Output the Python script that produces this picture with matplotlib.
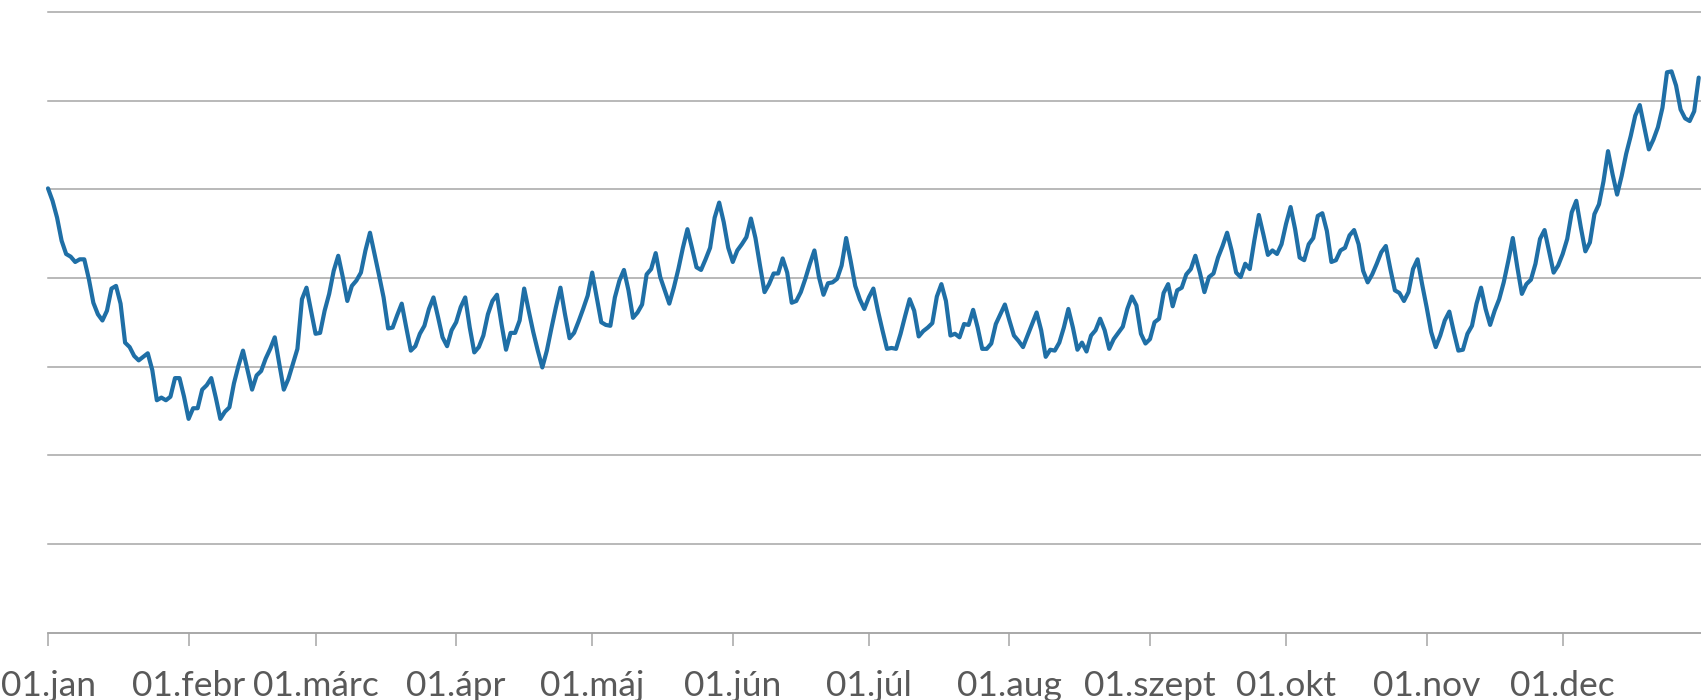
import matplotlib
matplotlib.use("Agg")
import matplotlib.pyplot as plt
import numpy as np

month_labels = ['01.jan', '01.febr', '01.márc', '01.ápr', '01.máj', '01.jún',
                '01.júl', '01.aug', '01.szept', '01.okt', '01.nov', '01.dec']

jan = [50.1, 48.7, 46.8, 44.2, 42.7, 42.4, 41.8, 42.1, 42.1, 39.9, 37.2, 35.9, 35.2, 36.3, 38.8, 39.1,
       37.1, 32.7, 32.2, 31.2, 30.7, 31.1, 31.5, 29.6, 26.2, 26.5, 26.2, 26.6, 28.7, 28.7, 26.6]
feb = [24.1, 25.3, 25.3, 27.4, 27.9, 28.7, 26.5, 24.1, 24.9, 25.4, 28.1, 30.1, 31.8, 29.6, 27.4, 29.0,
       29.5, 30.9, 32.0, 33.3, 30.3, 27.4, 28.6, 30.3, 32.0, 37.6, 38.9, 36.3]
mar = [33.7, 33.8, 36.3, 38.2, 40.8, 42.5, 40.1, 37.4, 39.1, 39.7, 40.6, 43.1, 45.1, 42.7, 40.3, 37.8,
       34.3, 34.4, 35.8, 37.1, 34.4, 31.8, 32.3, 33.7, 34.6, 36.5, 37.8, 35.6, 33.3, 32.3, 34.1]
apr = [35.0, 36.7, 37.8, 34.4, 31.6, 32.2, 33.5, 35.9, 37.4, 38.1, 34.8, 31.9, 33.8, 33.8, 35.2, 38.8,
       36.3, 33.9, 31.8, 29.9, 31.8, 34.3, 36.7, 38.9, 35.9, 33.2, 33.8, 35.1, 36.5, 38.0]
may = [40.6, 37.8, 35.0, 34.7, 34.6, 37.8, 39.7, 40.9, 38.6, 35.5, 36.1, 37.0, 40.4, 41.0, 42.8, 40.1,
       38.6, 37.1, 38.9, 41.0, 43.4, 45.5, 43.4, 41.2, 40.9, 42.1, 43.4, 46.8, 48.5, 46.3, 43.4]
jun = [41.8, 43.1, 43.8, 44.6, 46.7, 44.5, 41.4, 38.4, 39.3, 40.5, 40.5, 42.2, 40.6, 37.2, 37.4, 38.4,
       39.9, 41.6, 43.1, 40.1, 38.1, 39.4, 39.5, 39.9, 41.4, 44.5, 41.9, 39.1, 37.6, 36.5]
jul = [37.8, 38.8, 36.3, 34.1, 32.0, 32.1, 32.0, 33.7, 35.7, 37.6, 36.3, 33.4, 34.0, 34.4, 34.9, 37.9,
       39.3, 37.4, 33.5, 33.7, 33.3, 34.8, 34.7, 36.4, 34.4, 32.0, 32.0, 32.6, 34.8, 35.9, 37.0]
aug = [35.2, 33.5, 32.9, 32.2, 33.5, 34.8, 36.1, 34.1, 31.1, 31.9, 31.8, 32.7, 34.4, 36.5, 34.4, 31.9,
       32.7, 31.7, 33.5, 34.1, 35.4, 34.1, 32.0, 33.1, 33.8, 34.5, 36.5, 37.9, 36.9, 33.7, 32.6]
sep = [33.1, 35.0, 35.4, 38.3, 39.3, 36.8, 38.6, 38.9, 40.4, 41.0, 42.5, 40.6, 38.4, 40.1, 40.5, 42.3,
       43.6, 45.1, 43.1, 40.6, 40.1, 41.6, 41.0, 44.2, 47.1, 44.9, 42.6, 43.1, 42.7, 43.8]
oct = [46.1, 48.0, 45.5, 42.3, 42.0, 43.8, 44.5, 47.0, 47.3, 45.3, 41.8, 42.0, 43.1, 43.4, 44.8, 45.4,
       43.8, 40.8, 39.5, 40.4, 41.6, 42.9, 43.6, 41.0, 38.6, 38.3, 37.4, 38.4, 41.0, 42.1, 39.3]
nov = [36.7, 33.9, 32.2, 33.5, 35.2, 36.2, 33.9, 31.8, 31.9, 33.7, 34.6, 37.1, 38.9, 36.5, 34.7, 36.3,
       37.6, 39.5, 41.9, 44.5, 41.2, 38.2, 39.3, 39.8, 41.6, 44.4, 45.4, 43.0, 40.6, 41.4]
dec = [42.7, 44.4, 47.4, 48.7, 45.7, 43.0, 44.0, 47.2, 48.3, 50.9, 54.3, 51.7, 49.4, 51.5, 54.0, 56.0,
       58.3, 59.5, 57.0, 54.5, 55.6, 57.0, 59.2, 63.2, 63.3, 61.7, 59.0, 58.0, 57.7, 58.8, 62.6]

months = [jan, feb, mar, apr, may, jun, jul, aug, sep, oct, nov, dec]
values = np.concatenate(months)
days = np.arange(len(values))
month_starts = np.cumsum([0] + [len(m) for m in months[:-1]])

W, H = 1701, 700
fig = plt.figure(figsize=(W / 100, H / 100), dpi=100)
left_px, right_px, top_px, bottom_px = 48, 1701, 12, 632.5
ax = fig.add_axes([left_px / W, (H - bottom_px) / H,
                   (right_px - left_px) / W, (bottom_px - top_px) / H])

grid_color = '#a6a6a6'
ax.plot(days, values, color='#1f6fa6', linewidth=3.0, solid_joinstyle='round',
        solid_capstyle='round', zorder=3, clip_on=False)

ax.set_xlim(0, 364.5)
ax.set_ylim(0, 70)
ax.set_yticks(np.arange(0, 71, 10))
ax.yaxis.grid(True, color=grid_color, linewidth=1.1)
ax.tick_params(axis='y', left=False, labelleft=False)
for gl in ax.get_ygridlines():
    gl.set_clip_on(False)

ax.set_xticks(month_starts)
ax.set_xticklabels(month_labels, fontfamily='Lato', fontsize=25.5, color='#595959')
ax.tick_params(axis='x', direction='out', length=9, width=1.1, color=grid_color, pad=18)

for s in ['left', 'right', 'top']:
    ax.spines[s].set_visible(False)
ax.spines['bottom'].set_color(grid_color)
ax.spines['bottom'].set_linewidth(1.1)
ax.set_axisbelow(True)

fig.savefig('out.png', dpi=100)
